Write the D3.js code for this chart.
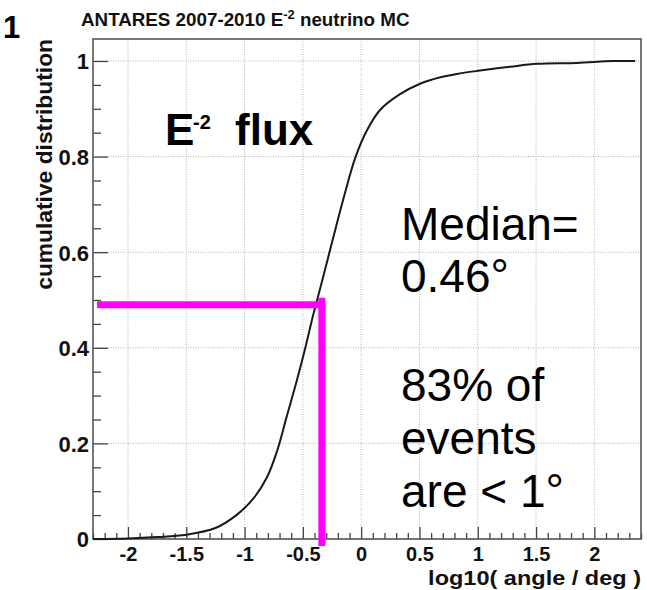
<!DOCTYPE html>
<html>
<head>
<meta charset="utf-8">
<script src="https://cdn.jsdelivr.net/npm/d3@7"></script>
<style>
  html, body { margin: 0; padding: 0; background: #fff; }
  svg { display: block; }
  text { font-family: "Liberation Sans", Arial, Helvetica, sans-serif; }
</style>
</head>
<body>
<svg id="chart" width="647" height="590"></svg>
<script>
// Cumulative distribution of reconstructed angular error, log10(angle / deg)
const logAngle = [-2.3, -2.0, -1.75, -1.5, -1.25, -1.07, -0.92, -0.81, -0.72, -0.64,
                  -0.55, -0.48, -0.41, -0.34, -0.24, -0.15, -0.05, 0.05, 0.16, 0.33,
                  0.51, 0.68, 0.82, 1.02, 1.28, 1.51, 1.85, 2.16, 2.35];
const cumFraction = [0.0, 0.001, 0.004, 0.009, 0.023, 0.05, 0.086, 0.128, 0.185, 0.255,
                     0.333, 0.399, 0.470, 0.535, 0.630, 0.714, 0.798, 0.855, 0.897, 0.93,
                     0.953, 0.966, 0.973, 0.98, 0.988, 0.994, 0.996, 1.0, 1.0];

const xMajorTicks = [-2, -1.5, -1, -0.5, 0, 0.5, 1, 1.5, 2];
const xTickLabels = ["-2", "-1.5", "-1", "-0.5", "0", "0.5", "1", "1.5", "2"];
const yMajorTicks = [0, 0.2, 0.4, 0.6, 0.8, 1];
const yTickLabels = ["0", "0.2", "0.4", "0.6", "0.8", "1"];

const medianDeg = 0.46;     // median angle in degrees
const medianLevel = 0.49;   // level of the horizontal marker
const markerStart = -2.265; // left end of the horizontal marker (log10 deg)

const svg = d3.select("#chart");
const frame = { left: 93, right: 641, top: 39, bottom: 539 };

const x = d3.scaleLinear().domain([-2.3, 2.4]).range([frame.left, frame.right]);
const y = d3.scaleLinear().domain([0, 1.046]).range([frame.bottom, frame.top]);

const g = svg.append("g");
const labelFont = "'Liberation Sans', Arial, sans-serif";

// dotted grid at major ticks
g.append("g").selectAll("line").data(xMajorTicks).join("line")
  .attr("x1", d => x(d)).attr("x2", d => x(d))
  .attr("y1", frame.top).attr("y2", frame.bottom)
  .attr("stroke", "#b5b5b5").attr("stroke-width", 1).attr("stroke-dasharray", "1,1.5");
g.append("g").selectAll("line").data(yMajorTicks).join("line")
  .attr("x1", frame.left).attr("x2", frame.right)
  .attr("y1", d => y(d)).attr("y2", d => y(d))
  .attr("stroke", "#b5b5b5").attr("stroke-width", 1).attr("stroke-dasharray", "1,1.5");

// x axis: ticks inside the frame, major every 0.5, minor every 0.1
const xMinor = d3.range(-23, 25).map(i => i / 10).filter(v => !xMajorTicks.some(m => Math.abs(m - v) < 1e-9));
const xAxis = d3.axisBottom(x).tickValues(xMajorTicks).tickSize(-12).tickFormat((d, i) => xTickLabels[i]);
const xAxisMinor = d3.axisBottom(x).tickValues(xMinor).tickSize(-6).tickFormat("");
g.append("g").attr("transform", `translate(0,${frame.bottom})`).call(xAxisMinor)
  .call(s => s.select(".domain").remove())
  .call(s => s.selectAll("line").attr("stroke", "#444").attr("stroke-width", 1.3));
const xg = g.append("g").attr("transform", `translate(0,${frame.bottom})`).call(xAxis);
xg.select(".domain").remove();
xg.selectAll("line").attr("stroke", "#444").attr("stroke-width", 1.3);
xg.selectAll("text").attr("y", 22).attr("dy", 0)
  .style("font-family", labelFont)
  .style("font-size", "20px").style("font-weight", "bold").attr("fill", "#111");

// y axis: major every 0.2, minor every 0.05
const yMinor = d3.range(0, 22).map(i => i * 0.05).filter(v => v <= 1.046 && !yMajorTicks.some(m => Math.abs(m - v) < 1e-9));
const yAxis = d3.axisLeft(y).tickValues(yMajorTicks).tickSize(-15).tickFormat((d, i) => yTickLabels[i]);
const yAxisMinor = d3.axisLeft(y).tickValues(yMinor).tickSize(-8).tickFormat("");
g.append("g").attr("transform", `translate(${frame.left},0)`).call(yAxisMinor)
  .call(s => s.select(".domain").remove())
  .call(s => s.selectAll("line").attr("stroke", "#444").attr("stroke-width", 1.3));
const yg = g.append("g").attr("transform", `translate(${frame.left},0)`).call(yAxis);
yg.select(".domain").remove();
yg.selectAll("line").attr("stroke", "#444").attr("stroke-width", 1.3);
yg.selectAll("text").attr("x", -4).attr("dy", "0.36em")
  .style("font-family", labelFont)
  .style("font-size", "22px").style("font-weight", "bold").attr("fill", "#111");

// frame
g.append("rect")
  .attr("x", frame.left).attr("y", frame.top)
  .attr("width", frame.right - frame.left).attr("height", frame.bottom - frame.top)
  .attr("fill", "none").attr("stroke", "#555").attr("stroke-width", 1.6);

// cumulative curve
const pts = logAngle.map((v, i) => [v, cumFraction[i]]);
g.append("path").datum(pts)
  .attr("d", d3.line().x(d => x(d[0])).y(d => y(d[1])).curve(d3.curveCatmullRom.alpha(0.5)))
  .attr("fill", "none").attr("stroke", "#1a1a1a").attr("stroke-width", 2);

// median markers
const xm = x(Math.log10(medianDeg));
g.append("line")
  .attr("x1", x(markerStart)).attr("x2", xm + 3.5)
  .attr("y1", y(medianLevel)).attr("y2", y(medianLevel))
  .attr("stroke", "#ff00ff").attr("stroke-width", 7);
g.append("line")
  .attr("x1", xm).attr("x2", xm)
  .attr("y1", y(medianLevel) - 7).attr("y2", frame.bottom + 7)
  .attr("stroke", "#ff00ff").attr("stroke-width", 7);

// axis titles
svg.append("text")
  .attr("transform", `translate(52,${frame.top}) rotate(-90)`)
  .attr("text-anchor", "end")
  .style("font-size", "22.8px").style("font-weight", "bold").attr("fill", "#111")
  .text("cumulative distribution");
svg.append("text")
  .attr("transform", `translate(${frame.right},584.5) scale(1.12,1)`)
  .attr("text-anchor", "end")
  .style("font-size", "21px").style("font-weight", "bold").attr("fill", "#111")
  .text("log10( angle / deg )");

// plot title
const title = svg.append("text").attr("x", 81).attr("y", 26)
  .style("font-size", "18.8px").style("font-weight", "bold").attr("fill", "#111");
title.append("tspan").text("ANTARES 2007-2010 E");
title.append("tspan").attr("dy", -7).style("font-size", "13px").text("-2");
title.append("tspan").attr("dy", 7).text(" neutrino MC");

// panel number
svg.append("text").attr("x", 3).attr("y", 38)
  .style("font-size", "31px").style("font-weight", "bold").text("1");

// annotations
svg.append("text").attr("x", 193).attr("y", 129)
  .style("font-size", "20px").style("font-weight", "bold").text("-2");
svg.append("text").attr("x", 165).attr("y", 145)
  .style("font-size", "44px").style("font-weight", "bold").text("E");
svg.append("text").attr("x", 235).attr("y", 145)
  .style("font-size", "44px").style("font-weight", "bold").text("flux");

const note = [["Median=", 240], ["0.46°", 292], ["83% of", 401], ["events", 454], ["are < 1°", 507]];
svg.append("g").selectAll("text").data(note).join("text")
  .attr("x", 401).attr("y", d => d[1])
  .style("font-size", "46px").attr("fill", "#000")
  .text(d => d[0]);
</script>
</body>
</html>
